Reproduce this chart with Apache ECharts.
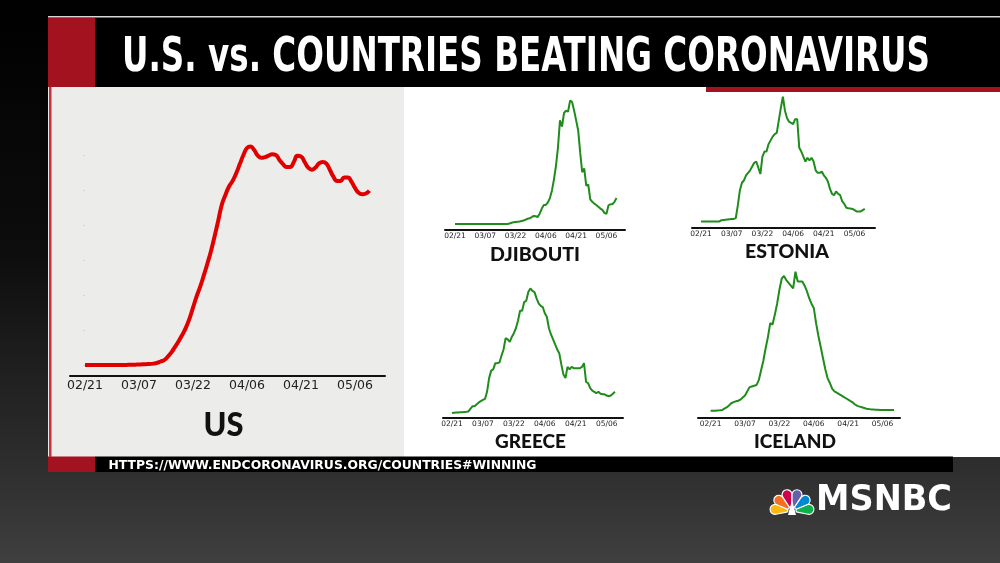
<!DOCTYPE html>
<html>
<head>
<meta charset="utf-8">
<title>U.S. vs. Countries Beating Coronavirus</title>
<script src="https://cdn.jsdelivr.net/npm/echarts@6/dist/echarts.min.js"></script>
<style>
html, body { margin: 0; padding: 0; background: #000; }
#chart { width: 1000px; height: 563px; }
</style>
</head>
<body>
<div id="chart"></div>
<script>
// x axis is days since 02/21, labels every 15 days
var tickDays = [0, 15, 30, 45, 60, 75];
var tickLabels = ['02/21', '03/07', '03/22', '04/06', '04/21', '05/06'];

// US new cases per day, thousands (02/21 - 05/10)
var usCases = [
  0, 0, 0, 0, 0, 0, 0, 0, 0, 0,
  0, 0.01, 0.02, 0.03, 0.05, 0.07, 0.1, 0.12, 0.15, 0.2,
  0.3, 0.5, 0.7, 1.2, 1.8, 2.6, 3.4, 4.3, 5.3, 6.6,
  8.2, 9.8, 11.2, 12.8, 14.5, 16.3, 18.4, 20.6, 22.9, 24.3,
  25.5, 26.3, 27.4, 28.7, 30.0, 31.0, 31.2, 30.7, 29.9, 29.6,
  29.7, 29.9, 30.1, 30.0, 29.3, 28.7, 28.3, 28.3, 29.0, 29.9,
  29.8, 29.0, 28.2, 27.9, 28.2, 28.8, 29.0, 28.8, 27.9, 26.9,
  26.3, 26.3, 26.8, 26.8, 26.2, 25.3, 24.6, 24.4, 24.5, 24.9
];
var usTicks = [0, 5, 10, 15, 20, 25, 30];

// the small panels carry no scale, so these are read as % of each peak
var djibouti = [
  0, 0, 0, 0, 0, 0, 0, 0, 0, 0,
  0, 0, 0, 0, 0, 0, 0, 0, 0, 0,
  0, 0, 0, 0, 0, 0, 0, 0.3, 1.0, 1.4,
  1.6, 1.8, 2.0, 2.4, 2.8, 3.5, 4.2, 4.6, 5.5, 6.5,
  6.2, 5.7, 8.5, 12.5, 15.4, 15.4, 17.5, 21, 27, 36,
  47, 62, 84, 79, 90, 92, 91, 100, 99, 92,
  84, 76, 58, 42, 45, 31, 32, 20, 18, 16.5,
  15.4, 14, 12.5, 11.4, 9, 8.1, 15, 16, 16, 18,
  21
];
var estonia = [
  0, 0, 0, 0, 0, 0, 0, 0, 0, 0,
  1, 1.2, 1.4, 1.6, 1.8, 1.9, 2.0, 2.7, 13, 25,
  31, 33, 37, 39, 41, 44, 47, 48, 43, 38,
  52, 56, 56, 62, 65, 68, 70, 71, 81, 91,
  100, 89, 83, 80, 79, 78, 82, 82, 59, 56,
  52, 48, 51, 49, 51, 48, 41, 39, 39, 40,
  37, 35, 32, 26, 22, 21, 24, 22, 21, 16,
  14, 11, 10.5, 10.3, 10, 9, 8, 8, 8, 9,
  10
];
var greece = [
  0, 0.3, 0.4, 0.5, 0.6, 0.7, 0.9, 1.0, 1.3, 3.5,
  5.5, 5.5, 7, 8.5, 9.5, 10.5, 11.3, 17, 28, 34,
  35, 40, 40, 40.5, 46, 51, 60, 59, 57, 61,
  64, 68, 74, 82, 82, 89, 90, 97, 100, 98,
  97, 92, 88, 86, 85, 80, 77, 68, 63, 59,
  55, 51, 48, 39, 31, 28, 37, 35, 37, 36,
  36, 36, 36, 37, 40, 25, 24, 20, 18, 17,
  16, 17, 15.5, 15, 15, 14, 13.5, 14, 15.5, 17
];
var iceland = [
  0, 0, 0.1, 0.2, 0.3, 0.5, 1.5, 2.4, 3.8, 5.4,
  6.2, 6.8, 7.2, 8.0, 9.5, 11, 14, 17, 17.5, 18,
  18.5, 22, 29, 36, 45, 53, 63, 62, 69, 77,
  87, 95, 97, 94, 92, 90, 88, 100, 93, 93,
  93, 90, 86, 81, 77, 74, 63, 54, 46, 38,
  30, 23.5, 20, 16, 14, 13, 12, 11, 10, 9,
  8, 7, 6, 4.5, 3.5, 3, 2.5, 2, 1.5, 1.2,
  1.0, 0.9, 0.8, 0.7, 0.6, 0.5, 0.5, 0.5, 0.5, 0.5,
  0.5
];

var RED = '#a3121f';
var GREEN = '#1f8c1c';
var narrow = '"Liberation Sans Narrow", "DejaVu Sans Condensed", "DejaVu Sans", sans-serif';
var heavy = 'Lato, "Open Sans", sans-serif';

// one grid per panel; min/max chosen so the axis line runs past the data like the original
var panels = [
  { data: usCases, color: '#e10000', width: 4, smooth: true, fontSize: 12.5, margin: 3,
    box: { left: 70, top: 120, width: 315, height: 256 }, xr: [-4.17, 83.33], yr: [-1.57, 35], yTicks: usTicks },
  { data: djibouti, color: GREEN, width: 2, fontSize: 7.5, margin: 2,
    box: { left: 445, top: 95, width: 180, height: 135 }, xr: [-4.95, 84.2], yr: [-4.9, 104.6] },
  { data: estonia, color: GREEN, width: 2, fontSize: 7.5, margin: 2,
    box: { left: 692, top: 92, width: 183, height: 136 }, xr: [-4.4, 85], yr: [-5.3, 103.8] },
  { data: greece, color: GREEN, width: 2, fontSize: 7.5, margin: 2,
    box: { left: 443, top: 284, width: 180, height: 134 }, xr: [-4.35, 82.9], yr: [-4, 103.5] },
  { data: iceland, color: GREEN, width: 2, fontSize: 7.5, margin: 2,
    box: { left: 698, top: 268, width: 202, height: 150 }, xr: [-5.5, 82.6], yr: [-5.2, 102.7] }
];

// text squeezed to the width it has in the broadcast graphic
var measure = document.createElement('canvas').getContext('2d');
function fitText(text, font, x, y, w, fill, align) {
  measure.font = font;
  var sx = w / measure.measureText(text).width;
  return { type: 'text', z: 10, x: x, y: y, scaleX: sx,
    style: { text: text, font: font, fill: fill, textAlign: align || 'left', textVerticalAlign: 'middle' } };
}

var names = [
  { text: 'US', x: 223.5, y: 425.5, size: 33, w: 40 },
  { text: 'DJIBOUTI', x: 535, y: 254.5, size: 19, w: 90 },
  { text: 'ESTONIA', x: 787, y: 252, size: 19, w: 84 },
  { text: 'GREECE', x: 530.5, y: 441.8, size: 19, w: 71 },
  { text: 'ICELAND', x: 795, y: 441.8, size: 19, w: 82 }
];

var chart = echarts.init(document.getElementById('chart'));

var graphics = [
  { type: 'rect', z: -10, shape: { x: 0, y: 0, width: 1000, height: 563 },
    style: { fill: new echarts.graphic.LinearGradient(0, 0, 0, 1, [
      { offset: 0, color: '#000' }, { offset: 0.45, color: '#0d0d0d' },
      { offset: 0.85, color: '#303030' }, { offset: 1, color: '#3f3f3f' }]) } },
  { type: 'rect', z: -9, shape: { x: 48, y: 16, width: 952, height: 1.5 }, style: { fill: '#d8d8d8' } },
  { type: 'rect', z: -9, shape: { x: 48, y: 18, width: 47, height: 69 }, style: { fill: RED } },
  { type: 'rect', z: -9, shape: { x: 95, y: 18, width: 905, height: 69 }, style: { fill: '#000' } },
  { type: 'rect', z: -9, shape: { x: 48, y: 87, width: 356, height: 370 }, style: { fill: '#ececea' } },
  { type: 'rect', z: -9, shape: { x: 404, y: 87, width: 596, height: 370 }, style: { fill: '#fff' } },
  { type: 'rect', z: -8, shape: { x: 49, y: 87, width: 2.5, height: 370 }, style: { fill: '#c8303c' } },
  { type: 'rect', z: -8, shape: { x: 706, y: 87, width: 294, height: 5 }, style: { fill: RED } },
  { type: 'rect', z: -9, shape: { x: 48, y: 456.5, width: 47, height: 15.5 }, style: { fill: RED } },
  { type: 'rect', z: -9, shape: { x: 95, y: 456.5, width: 858, height: 15.5 }, style: { fill: '#000' } },
  fitText('U.S. vs. COUNTRIES BEATING CORONAVIRUS', 'bold 48px ' + narrow, 122, 59, 808, '#fff'),
  fitText('HTTPS://WWW.ENDCORONAVIRUS.ORG/COUNTRIES#WINNING', 'bold 12.5px ' + narrow, 108.5, 465.5, 428, '#fff'),
  fitText('MSNBC', 'bold 35px ' + narrow, 816, 501, 136, '#fff')
];

// peacock feathers, fanned a little past the horizontal
var feathers = ['#fcb711', '#f37021', '#cc004c', '#6460aa', '#0089d0', '#0db14b'];
var fan0 = Math.PI - 0.2, step = (Math.PI + 0.4) / feathers.length;
feathers.forEach(function (c, i) {
  graphics.push({ type: 'sector', z: 10,
    shape: { cx: 792, cy: 511, r0: 4, r: 22, cornerRadius: 5,
      startAngle: fan0 + i * step, endAngle: fan0 + (i + 1) * step },
    style: { fill: c, stroke: '#fff', lineWidth: 1.2 } });
});
graphics.push({ type: 'polygon', z: 11, shape: { points: [[788, 515], [796, 515], [792, 500]] }, style: { fill: '#fff' } });

names.forEach(function (n) {
  graphics.push(fitText(n.text, '900 ' + n.size + 'px ' + heavy, n.x, n.y, n.w, '#111', 'center'));
});

var option = {
  animation: false,
  graphic: graphics,
  grid: panels.map(function (p) { return p.box; }),
  xAxis: panels.map(function (p, i) {
    return {
      type: 'value', gridIndex: i, min: p.xr[0], max: p.xr[1],
      splitLine: { show: false },
      axisTick: { show: false },
      axisLine: { onZero: false, lineStyle: { color: '#111', width: 2 } },
      axisLabel: {
        customValues: tickDays, margin: p.margin,
        color: '#222', fontSize: p.fontSize, fontFamily: '"DejaVu Sans", sans-serif',
        formatter: function (v) { return tickLabels[tickDays.indexOf(v)]; }
      }
    };
  }),
  yAxis: panels.map(function (p, i) {
    return {
      type: 'value', gridIndex: i, min: p.yr[0], max: p.yr[1],
      splitLine: { show: false },
      axisLine: { show: false },
      axisLabel: { show: false },
      axisTick: p.yTicks ? { show: true, length: 1.5, customValues: p.yTicks, lineStyle: { color: '#cfcfcf' } } : { show: false }
    };
  }),
  series: panels.map(function (p, i) {
    return {
      type: 'line', xAxisIndex: i, yAxisIndex: i,
      smooth: !!p.smooth, showSymbol: false, symbol: 'none',
      lineStyle: { color: p.color, width: p.width },
      data: p.data.map(function (v, d) { return [d, v]; })
    };
  })
};

chart.setOption(option);
window.addEventListener('resize', function () { chart.resize(); });
</script>
</body>
</html>
